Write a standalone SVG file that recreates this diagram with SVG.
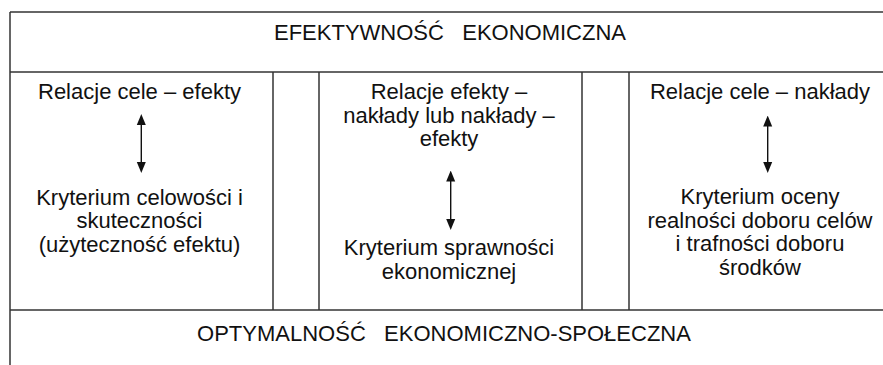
<svg xmlns="http://www.w3.org/2000/svg" width="883" height="365" viewBox="0 0 883 365">
<style>
.frame{stroke:#333;stroke-width:1.5;fill:none}
.t{font-family:"Liberation Sans",Arial,sans-serif;font-size:22px;fill:#111;text-anchor:middle}
.arr{stroke:#111;stroke-width:1.4;fill:none;marker-start:url(#ah);marker-end:url(#ah)}
</style>
<defs>
<marker id="ah" markerUnits="userSpaceOnUse" markerWidth="11" markerHeight="10" viewBox="0 0 11 10" refX="8" refY="5" orient="auto-start-reverse">
<path d="M0,0.5 L11,5 L0,9.5 Z" fill="#111"/>
</marker>
</defs>
<g id="frame">
<line class="frame" x1="10" y1="12" x2="883" y2="12"/>
<line class="frame" x1="10" y1="72" x2="883" y2="72"/>
<line class="frame" x1="10" y1="310" x2="883" y2="310"/>
<line class="frame" x1="10" y1="12" x2="10" y2="365"/>
<line class="frame" x1="273" y1="72" x2="273" y2="310"/>
<line class="frame" x1="319" y1="72" x2="319" y2="310"/>
<line class="frame" x1="582" y1="72" x2="582" y2="310"/>
<line class="frame" x1="629" y1="72" x2="629" y2="310"/>
</g>
<g id="title">
<text class="t" x="450" y="40" xml:space="preserve">EFEKTYWNOŚĆ   EKONOMICZNA</text>
</g>
<g id="col1">
<text class="t" x="139.5" y="99">Relacje cele – efekty</text>
<text class="t" x="139.5" y="204.5">Kryterium celowości i</text>
<text class="t" x="139.5" y="228">skuteczności</text>
<text class="t" x="139.5" y="251.5">(użyteczność efektu)</text>
</g>
<g id="col2">
<text class="t" x="449" y="99">Relacje efekty –</text>
<text class="t" x="449" y="122.5">nakłady lub nakłady –</text>
<text class="t" x="449" y="146">efekty</text>
<text class="t" x="449" y="255">Kryterium sprawności</text>
<text class="t" x="449" y="278.5">ekonomicznej</text>
</g>
<g id="col3">
<text class="t" x="760" y="99">Relacje cele – nakłady</text>
<text class="t" x="760" y="204">Kryterium oceny</text>
<text class="t" x="760" y="227.5">realności doboru celów</text>
<text class="t" x="760" y="251">i trafności doboru</text>
<text class="t" x="760" y="274.5">środków</text>
</g>
<g id="bottom">
<text class="t" x="444" y="340.7" xml:space="preserve">OPTYMALNOŚĆ   EKONOMICZNO-SPOŁECZNA</text>
</g>
<g id="connectors">
<line class="arr" x1="141.3" y1="117" x2="141.3" y2="170"/>
<line class="arr" x1="450.7" y1="173.5" x2="450.7" y2="227"/>
<line class="arr" x1="767.7" y1="118.5" x2="767.7" y2="170"/>
</g>
</svg>
